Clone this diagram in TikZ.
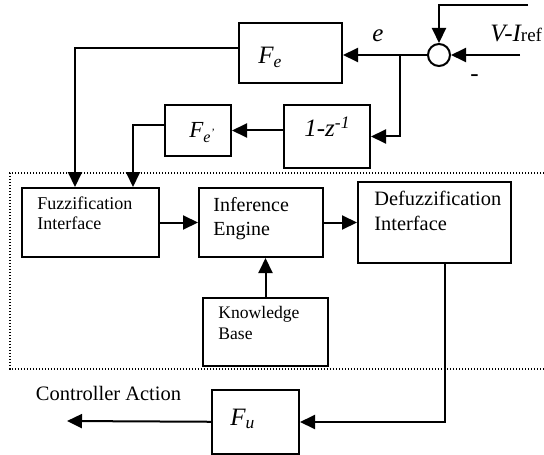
\documentclass[tikz,border=0pt]{standalone}
\usepackage{fontspec}
\setmainfont{Liberation Serif}
\usetikzlibrary{arrows.meta,positioning,calc}

\begin{document}
\begin{tikzpicture}[
    x=0.5pt, y=-0.5pt,
    >={Triangle[length=7.5pt,width=7pt]},
    block/.style={draw, line width=1pt, inner sep=0pt, anchor=north west},
    intext/.style={anchor=north west, align=left, inner sep=0pt},
    mathtext/.style={anchor=base west, inner sep=0pt, font=\fontsize{12.5}{14}\selectfont\itshape},
    link/.style={->, line width=1pt}
]
\useasboundingbox (0,0) rectangle (544,454);
\draw[line width=0.6pt, dash pattern=on 0.6pt off 0.9pt] (544,173) -- (10,173) -- (10,369) -- (544,369);
\node[block, minimum width=51.5pt, minimum height=30pt, label={[mathtext, xshift=10pt, yshift=-5.5pt]west:F\textsubscript{e}}] (fe) at (238,22) {};
\node[block, minimum width=33pt, minimum height=25.5pt, label={[mathtext, font=\fontsize{11.5}{13}\selectfont\itshape, xshift=12.5pt, yshift=-3.5pt]west:F\textsubscript{e\textsuperscript{’}}}] (fep) at (164,104) {};
\node[block, minimum width=43pt, minimum height=31.5pt, label={[mathtext, xshift=10.5pt, yshift=-0.25pt]west:1-z\textsuperscript{-1}}] (dz) at (283,104) {};
\node[block, minimum width=68.5pt, minimum height=34.5pt, label={[intext, font=\fontsize{9}{10}\selectfont, xshift=8pt, yshift=-4.5pt]north west:{Fuzzification\\Interface}}] (fuzz) at (21,187) {};
\node[block, minimum width=62pt, minimum height=34.5pt, label={[intext, font=\fontsize{10}{12}\selectfont, xshift=7.5pt, yshift=-5pt]north west:{Inference\\Engine}}] (inf) at (198,187) {};
\node[block, minimum width=76.5pt, minimum height=40.5pt, label={[intext, font=\fontsize{10.2}{12.2}\selectfont, xshift=8.5pt, yshift=-5pt]north west:{Defuzzification\\Interface}}] (defuzz) at (357,181) {};
\node[block, minimum width=62.5pt, minimum height=34pt, label={[intext, font=\fontsize{8.8}{10.5}\selectfont, xshift=8pt, yshift=-4.5pt]north west:{Knowledge\\Base}}] (kb) at (202,297) {};
\node[block, minimum width=43.5pt, minimum height=32pt, label={[mathtext, xshift=9.5pt, yshift=-1.5pt]west:F\textsubscript{u}}] (fu) at (211,389) {};
\node[draw, circle, line width=1pt, inner sep=0pt, minimum size=11pt] (sum) at (439,55) {};
\node[mathtext] (errlabel) at (372,42) {e};
\node[mathtext] (reflabel) at (490,42) {V-I{\upshape\fontsize{9.5}{10}\selectfont ref}};
\node[mathtext, font=\fontsize{12.5}{14}\selectfont] (minus) at (470,82) {-};
\node[font=\fontsize{10.25}{12}\selectfont, inner sep=0pt] (actlabel) at (108.5,393) {Controller Action};
\coordinate (split) at (400,55);
\coordinate (refin) at (520,55);
\coordinate (fbin) at (528,5);
\coordinate (act) at (67,421);
\draw[link] (fbin) -| (sum.north);
\draw[link] (refin) -- (sum.east);
\draw[link] (sum.west) -- (sum.west -| fe.east);
\draw[link] (split) |- (dz.east);
\draw[link] (dz.west |- fep.east) -- (fep.east);
\draw[link] ([yshift=2.5pt]fe.west) -| ([xshift=27pt]fuzz.north west);
\draw[link] ([yshift=2.75pt]fep.west) -| ([xshift=56pt]fuzz.north west);
\draw[link] (fuzz) -- (inf);
\draw[link] (inf.east) -- (inf.east -| defuzz.west);
\draw[link] (kb.north) -- (kb.north |- inf.south);
\draw[link] ([xshift=5pt]defuzz.south) |- (fu.east);
\draw[link] (fu) -- (act);
\end{tikzpicture}
\end{document}
